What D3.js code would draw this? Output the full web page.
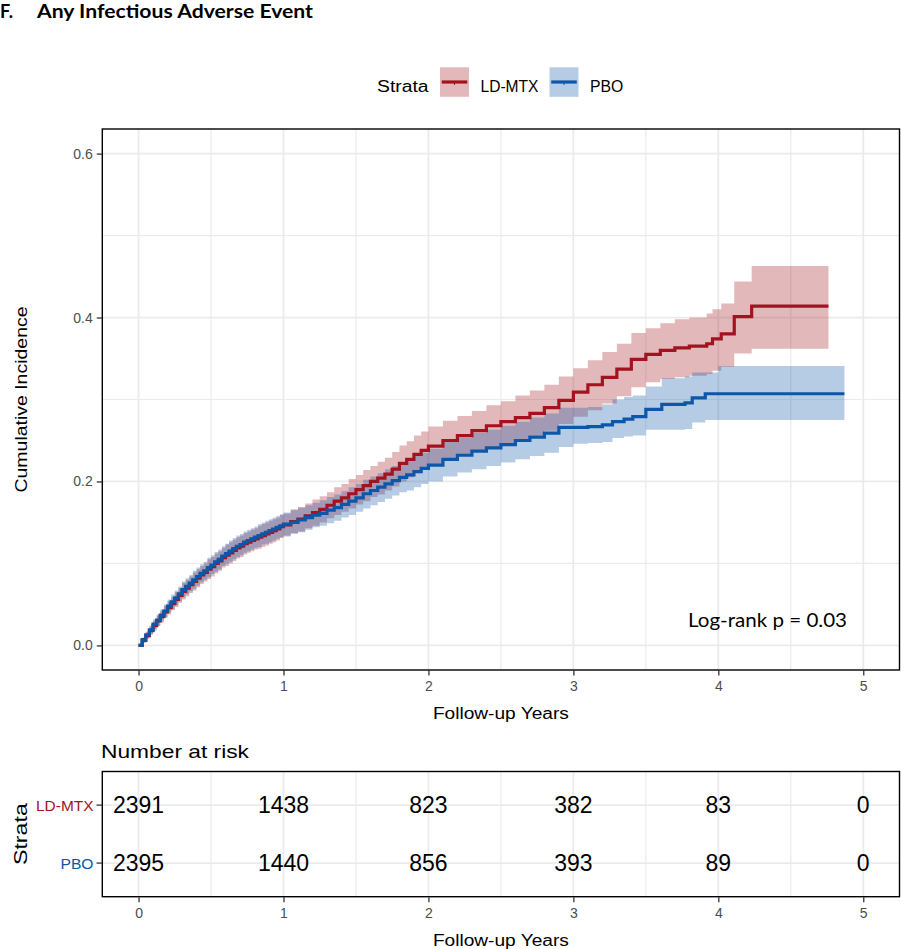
<!DOCTYPE html>
<html><head><meta charset="utf-8">
<script src="https://cdn.jsdelivr.net/npm/d3@7"></script>
<style>
body{margin:0;background:#fff}
svg{display:block}
text{font-family:"Liberation Sans",Arial,sans-serif}
</style>
</head><body>
<svg id="c" width="901" height="949"></svg>
<script>
// ---------------- DATA ----------------
const strata = ["LD-MTX", "PBO"];

const ldmtxTime = [0,0.025,0.05,0.075,0.1,0.125,0.15,0.175,0.2,0.225,0.25,0.275,0.3,0.325,0.35,0.375,0.4,0.425,0.45,0.475,0.5,0.525,0.55,0.575,0.6,0.625,0.65,0.675,0.7,0.725,0.75,0.775,0.8,0.825,0.85,0.875,0.9,0.925,0.95,0.975,1.0,
  1.05,1.1,1.15,1.2,1.25,1.3,1.35,1.4,1.45,1.5,1.55,1.6,1.65,1.7,1.75,1.8,1.85,1.9,1.95,2.0,
  2.1,2.2,2.3,2.4,2.5,2.6,2.7,2.8,2.9,3.0,3.1,3.2,3.3,3.4,3.5,3.6,3.7,3.8,
  3.92,3.96,4.02,4.11,4.23,4.76];
const ldmtxEst = [0,0.006,0.012,0.018,0.024,0.030,0.035,0.041,0.046,0.051,0.056,0.061,0.066,0.070,0.074,0.078,0.082,0.086,0.089,0.093,0.096,0.100,0.103,0.107,0.110,0.113,0.116,0.119,0.121,0.124,0.126,0.128,0.130,0.132,0.134,0.136,0.138,0.140,0.142,0.145,0.147,
  0.151,0.154,0.158,0.162,0.166,0.171,0.176,0.180,0.185,0.190,0.195,0.200,0.204,0.209,0.215,0.222,0.227,0.233,0.238,0.243,
  0.250,0.256,0.262,0.268,0.273,0.278,0.283,0.290,0.299,0.309,0.318,0.327,0.337,0.349,0.355,0.360,0.363,0.365,
  0.368,0.374,0.380,0.401,0.414,0.414];
const ldmtxLower = [0,0.003,0.008,0.013,0.018,0.024,0.028,0.034,0.038,0.043,0.047,0.052,0.056,0.060,0.064,0.067,0.071,0.075,0.078,0.081,0.084,0.088,0.091,0.095,0.097,0.100,0.103,0.106,0.108,0.111,0.113,0.115,0.117,0.118,0.120,0.122,0.124,0.126,0.128,0.131,0.133,
  0.137,0.139,0.143,0.146,0.150,0.155,0.159,0.163,0.167,0.172,0.176,0.181,0.184,0.189,0.194,0.200,0.205,0.210,0.215,0.219,
  0.226,0.231,0.237,0.242,0.247,0.251,0.256,0.262,0.270,0.279,0.287,0.295,0.304,0.315,0.321,0.325,0.327,0.329,
  0.331,0.335,0.340,0.356,0.362,0.362];
const ldmtxUpper = [0,0.009,0.016,0.023,0.030,0.036,0.042,0.048,0.054,0.059,0.065,0.070,0.076,0.080,0.084,0.089,0.093,0.097,0.100,0.105,0.108,0.112,0.115,0.119,0.123,0.126,0.129,0.132,0.134,0.137,0.139,0.141,0.143,0.146,0.148,0.150,0.152,0.154,0.156,0.159,0.161,
  0.166,0.169,0.173,0.178,0.182,0.187,0.193,0.197,0.203,0.208,0.214,0.219,0.224,0.229,0.236,0.244,0.249,0.256,0.261,0.267,
  0.274,0.280,0.286,0.293,0.298,0.305,0.311,0.318,0.328,0.338,0.348,0.358,0.368,0.381,0.387,0.393,0.398,0.400,
  0.405,0.410,0.417,0.444,0.463,0.463];

const pboTime = [0,0.025,0.05,0.075,0.1,0.125,0.15,0.175,0.2,0.225,0.25,0.275,0.3,0.325,0.35,0.375,0.4,0.425,0.45,0.475,0.5,0.525,0.55,0.575,0.6,0.625,0.65,0.675,0.7,0.725,0.75,0.775,0.8,0.825,0.85,0.875,0.9,0.925,0.95,0.975,1.0,
  1.05,1.1,1.15,1.2,1.25,1.3,1.35,1.4,1.45,1.5,1.55,1.6,1.65,1.7,1.75,1.8,1.85,1.9,1.95,2.0,
  2.1,2.2,2.3,2.4,2.5,2.6,2.7,2.8,2.9,3.0,3.1,3.2,
  3.27,3.35,3.41,3.5,3.61,3.77,3.82,3.91,4.0,4.87];
const pboEst = [0,0.007,0.013,0.019,0.026,0.031,0.037,0.042,0.048,0.053,0.058,0.063,0.068,0.072,0.076,0.080,0.084,0.088,0.091,0.095,0.098,0.102,0.105,0.109,0.112,0.115,0.118,0.121,0.123,0.126,0.128,0.130,0.132,0.134,0.136,0.138,0.140,0.142,0.144,0.146,0.148,
  0.150,0.153,0.156,0.159,0.161,0.165,0.168,0.172,0.176,0.180,0.185,0.189,0.193,0.197,0.201,0.205,0.208,0.212,0.216,0.220,
  0.227,0.232,0.237,0.241,0.245,0.250,0.254,0.259,0.266,0.266,0.267,0.269,
  0.273,0.276,0.279,0.288,0.294,0.296,0.302,0.307,0.307,0.307];
const pboLower = [0,0.004,0.009,0.014,0.020,0.024,0.030,0.034,0.040,0.044,0.049,0.054,0.058,0.062,0.066,0.069,0.073,0.077,0.080,0.083,0.087,0.090,0.093,0.097,0.100,0.102,0.105,0.108,0.110,0.113,0.115,0.117,0.119,0.120,0.123,0.124,0.126,0.128,0.130,0.132,0.134,
  0.136,0.138,0.141,0.144,0.146,0.149,0.152,0.156,0.159,0.163,0.167,0.171,0.175,0.179,0.183,0.187,0.189,0.193,0.197,0.200,
  0.206,0.211,0.215,0.219,0.223,0.227,0.231,0.235,0.242,0.246,0.247,0.248,
  0.253,0.255,0.256,0.263,0.263,0.264,0.272,0.275,0.275,0.275];
const pboUpper = [0,0.010,0.017,0.024,0.032,0.038,0.044,0.050,0.056,0.062,0.067,0.072,0.078,0.082,0.086,0.091,0.095,0.099,0.102,0.107,0.110,0.114,0.117,0.121,0.124,0.128,0.131,0.134,0.136,0.139,0.141,0.143,0.145,0.148,0.150,0.152,0.154,0.156,0.158,0.160,0.162,
  0.165,0.168,0.171,0.174,0.177,0.181,0.184,0.188,0.193,0.197,0.202,0.206,0.210,0.215,0.219,0.223,0.227,0.231,0.235,0.240,
  0.248,0.253,0.259,0.263,0.268,0.273,0.278,0.283,0.290,0.290,0.291,0.294,
  0.300,0.303,0.305,0.316,0.326,0.328,0.333,0.333,0.341,0.341];

const xTicks = [0,1,2,3,4,5];
const xMinorTicks = [0.5,1.5,2.5,3.5,4.5];
const yTicks = [0,0.2,0.4,0.6];
const yTickLabels = ["0.0","0.2","0.4","0.6"];
const yMinorTicks = [0.1,0.3,0.5];

const riskTimes = [0,1,2,3,4,5];
const riskLDMTX = [2391,1438,823,382,83,0];
const riskPBO = [2395,1440,856,393,89,0];

const titleLetter = "F.";
const titleText = "Any Infectious Adverse Event";
const pvalueText = "Log-rank p = 0.03";

// ---------------- STYLE ----------------
const colRed = "#A3131F", colBlue = "#0C57A9";
const gridCol = "#EBEBEB";
const tickTextCol = "#4D4D4D";

const svg = d3.select("#c");
svg.append("rect").attr("width",901).attr("height",949).attr("fill","#fff");

function txt(parent, s, px, py, o) {
  const t = parent.append("text").attr("x",px).attr("y",py).text(s)
    .attr("font-size", o.size || 14)
    .attr("fill", o.fill || "#000")
    .attr("text-anchor", o.anchor || "start");
  if (o.weight) t.attr("font-weight", o.weight);
  if (o.family) t.style("font-family", o.family);
  if (o.len) t.attr("textLength", o.len).attr("lengthAdjust","spacingAndGlyphs");
  if (o.rotate) t.attr("transform", `rotate(${o.rotate},${px},${py})`);
  return t;
}

// ---------------- TITLE ----------------
txt(svg, titleLetter, 0, 18, {size:18.5, weight:"bold", family:"Lato, 'Open Sans', sans-serif", len:13});
txt(svg, titleText, 37, 18, {size:18.5, weight:"bold", family:"Lato, 'Open Sans', sans-serif", len:276});

// ---------------- LEGEND ----------------
const series = [
  {name: strata[0], col: colRed, time: ldmtxTime, est: ldmtxEst, lo: ldmtxLower, hi: ldmtxUpper},
  {name: strata[1], col: colBlue, time: pboTime, est: pboEst, lo: pboLower, hi: pboUpper}
];
const lg = svg.append("g");
txt(lg, "Strata", 377, 91.5, {size:16, len:51.5});
const keyX = [440, 549.5], labX = [480.5, 590], labLen = [58, 33.3];
series.forEach((s,i) => {
  lg.append("rect").attr("x",keyX[i]).attr("y",67.3).attr("width",29).attr("height",29.5)
    .attr("fill", s.col).attr("fill-opacity",0.3);
  lg.append("line").attr("x1",keyX[i]+1.7).attr("x2",keyX[i]+27.3).attr("y1",82).attr("y2",82)
    .attr("stroke", s.col).attr("stroke-width",3.2);
  lg.append("line").attr("x1",keyX[i]+14.5).attr("x2",keyX[i]+14.5).attr("y1",82).attr("y2",85)
    .attr("stroke", s.col).attr("stroke-width",1);
  txt(lg, s.name, labX[i], 91.5, {size:16, len:labLen[i]});
});

// ---------------- MAIN PANEL ----------------
const P = {l:102.3, r:899.5, t:129, b:670};
const x = d3.scaleLinear().domain([-0.25,5.25]).range([P.l,P.r]);
const y = d3.scaleLinear().domain([-0.03,0.63]).range([P.b,P.t]);

const grid = svg.append("g");
xMinorTicks.forEach(v => grid.append("line").attr("x1",x(v)).attr("x2",x(v)).attr("y1",P.t).attr("y2",P.b).attr("stroke",gridCol).attr("stroke-width",1.2));
yMinorTicks.forEach(v => grid.append("line").attr("x1",P.l).attr("x2",P.r).attr("y1",y(v)).attr("y2",y(v)).attr("stroke",gridCol).attr("stroke-width",1.2));
xTicks.forEach(v => grid.append("line").attr("x1",x(v)).attr("x2",x(v)).attr("y1",P.t).attr("y2",P.b).attr("stroke",gridCol).attr("stroke-width",1.8));
yTicks.forEach(v => grid.append("line").attr("x1",P.l).attr("x2",P.r).attr("y1",y(v)).attr("y2",y(v)).attr("stroke",gridCol).attr("stroke-width",1.8));

svg.append("clipPath").attr("id","clipP").append("rect")
  .attr("x",P.l).attr("y",P.t).attr("width",P.r-P.l).attr("height",P.b-P.t);
const plot = svg.append("g").attr("clip-path","url(#clipP)");

const rows = s => s.time.map((t,i) => ({t, e:s.est[i], lo:s.lo[i], hi:s.hi[i]}));
const area = d3.area().curve(d3.curveStepAfter).x(d=>x(d.t)).y0(d=>y(d.lo)).y1(d=>y(d.hi));
const line = d3.line().curve(d3.curveStepAfter).x(d=>x(d.t)).y(d=>y(d.e));

series.forEach(s => {
  plot.append("path").datum(rows(s)).attr("d",area).attr("fill",s.col).attr("fill-opacity",0.3);
});
series.forEach(s => {
  plot.append("path").datum(rows(s)).attr("d",line).attr("fill","none").attr("stroke",s.col).attr("stroke-width",3.2);
});

txt(svg, pvalueText, 688, 627, {size:19, family:"Lato, 'Open Sans', sans-serif", len:159});

// axes
const yAxis = d3.axisLeft(y).tickValues(yTicks).tickFormat((d,i)=>yTickLabels[i]).tickSize(5).tickPadding(4);
const ya = svg.append("g").attr("transform",`translate(${P.l-0.5},0)`).call(yAxis);
const xAxis = d3.axisBottom(x).tickValues(xTicks).tickFormat(d3.format("d")).tickSize(5).tickPadding(6);
const xa = svg.append("g").attr("transform",`translate(0,${P.b+0.5})`).call(xAxis);
[ya, xa].forEach(a => {
  a.select(".domain").remove();
  a.selectAll(".tick line").attr("stroke","#333").attr("stroke-width",1.3);
  a.selectAll(".tick text").attr("fill",tickTextCol).attr("font-size",14).style("font-family","'Liberation Sans',Arial,sans-serif");
});

svg.append("rect").attr("x",P.l).attr("y",P.t).attr("width",P.r-P.l).attr("height",P.b-P.t)
  .attr("fill","none").attr("stroke","#000").attr("stroke-width",1.4);

txt(svg, "Cumulative Incidence", 27, (P.t+P.b)/2, {size:16, anchor:"middle", rotate:-90, len:186});
txt(svg, "Follow-up Years", (P.l+P.r)/2, 719, {size:16, anchor:"middle", len:136});

// ---------------- RISK TABLE ----------------
const T = {l:102.3, r:899.5, t:771.5, b:896.7};
const yr = d3.scaleLinear().domain([0.42,2.58]).range([T.t,T.b]);
const tg = svg.append("g");
xMinorTicks.forEach(v => tg.append("line").attr("x1",x(v)).attr("x2",x(v)).attr("y1",T.t).attr("y2",T.b).attr("stroke",gridCol).attr("stroke-width",1.2));
xTicks.forEach(v => tg.append("line").attr("x1",x(v)).attr("x2",x(v)).attr("y1",T.t).attr("y2",T.b).attr("stroke",gridCol).attr("stroke-width",1.8));
[1,2].forEach(v => tg.append("line").attr("x1",T.l).attr("x2",T.r).attr("y1",yr(v)).attr("y2",yr(v)).attr("stroke",gridCol).attr("stroke-width",1.8));

const riskRows = [{name:strata[0], col:colRed, vals:riskLDMTX, len:57.5}, {name:strata[1], col:colBlue, vals:riskPBO, len:33}];
riskRows.forEach((r,ri) => {
  r.vals.forEach((v,i) => {
    tg.append("text").attr("x",x(riskTimes[i])).attr("y",yr(ri+1)).attr("dy","0.36em")
      .attr("text-anchor","middle").attr("font-size",23).attr("fill","#000").text(v);
  });
  txt(tg, r.name, 93.5, yr(ri+1)+5.5, {size:15.5, anchor:"end", fill:r.col, len:r.len});
  tg.append("line").attr("x1",96.5).attr("x2",101.8).attr("y1",yr(ri+1)).attr("y2",yr(ri+1)).attr("stroke","#333").attr("stroke-width",1.3);
});
const xa2 = svg.append("g").attr("transform",`translate(0,${T.b+0.5})`).call(xAxis);
xa2.select(".domain").remove();
xa2.selectAll(".tick line").attr("stroke","#333").attr("stroke-width",1.3);
xa2.selectAll(".tick text").attr("fill",tickTextCol).attr("font-size",14);
svg.append("rect").attr("x",T.l).attr("y",T.t).attr("width",T.r-T.l).attr("height",T.b-T.t)
  .attr("fill","none").attr("stroke","#000").attr("stroke-width",1.4);

txt(svg, "Number at risk", 101, 758, {size:18.5, len:148});
txt(svg, "Strata", 27, (T.t+T.b)/2, {size:18, anchor:"middle", rotate:-90, len:62});
txt(svg, "Follow-up Years", (P.l+P.r)/2, 946, {size:16, anchor:"middle", len:136});
</script>
</body></html>
